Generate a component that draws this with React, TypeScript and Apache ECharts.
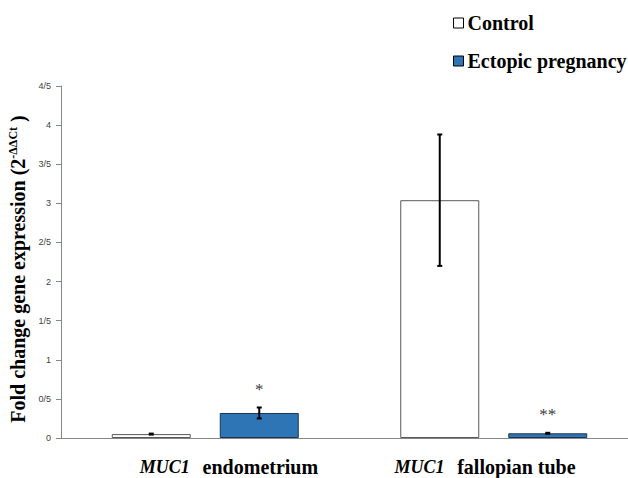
import React, { useEffect, useRef } from "react";
import * as echarts from "echarts";

const categories = ["MUC1  endometrium", "MUC1  fallopian tube"];
const seriesNames = ["Control", "Ectopic pregnancy"];
const controlValues = [0.05, 3.04];
const controlErrors = [0.006, 0.84];
const ectopicValues = [0.32, 0.06];
const ectopicErrors = [0.07, 0.012];
const significance = ["*", "**"];
const yTicks = [0, 0.5, 1, 1.5, 2, 2.5, 3, 3.5, 4, 4.5];

const SERIF = "Liberation Serif";
const BAR_W = 79;
const BAR_GAP = 29;

function errorSeries(name: string, values: number[], errors: number[], side: number, marks?: string[]) {
  const data = values.map((v, i) => [i, v, errors[i], marks ? marks[i] : ""]);
  return {
    type: "custom",
    name: name + " err",
    z: 5,
    data,
    renderItem: (params: any, api: any) => {
      const idx = api.value(0);
      const v = api.value(1);
      const e = api.value(2);
      const mark = data[params.dataIndex][3] as string;
      const off = side * (BAR_W + BAR_GAP) / 2;
      const top = api.coord([idx, v + e]);
      const bot = api.coord([idx, v - e]);
      const x = top[0] + off;
      const cap = 2.5;
      const children: any[] = [];
      const lineStyle = { stroke: "#000", lineWidth: 2 };
      if (Math.abs(bot[1] - top[1]) < 4) {
        const mid = (top[1] + bot[1]) / 2;
        children.push({ type: "rect", shape: { x: x - 2.5, y: mid - 1.5, width: 5, height: 3 }, style: { fill: "#000" } });
      } else {
        children.push({ type: "line", shape: { x1: x, y1: top[1], x2: x, y2: bot[1] }, style: lineStyle });
        children.push({ type: "line", shape: { x1: x - cap, y1: top[1], x2: x + cap, y2: top[1] }, style: lineStyle });
        children.push({ type: "line", shape: { x1: x - cap, y1: bot[1], x2: x + cap, y2: bot[1] }, style: lineStyle });
      }
      if (mark) {
        children.push({
          type: "text",
          style: {
            text: mark,
            x,
            y: top[1] - 18,
            textAlign: "center",
            textVerticalAlign: "middle",
            fontFamily: SERIF,
            fontSize: 17,
            fill: "#404040",
          },
        });
      }
      return { type: "group", children };
    },
  };
}

const richLabel = {
  i: { fontFamily: SERIF, fontStyle: "italic", fontWeight: "bold", fontSize: 18, fill: "#000" },
  b: { fontFamily: SERIF, fontWeight: "bold", fontSize: 20, fill: "#000" },
};

export default function App() {
  const ref = useRef<HTMLDivElement>(null);
  useEffect(() => {
    if (!ref.current) return;
    const chart = echarts.init(ref.current, undefined, { renderer: "svg" });
    chart.setOption({
      animation: false,
      backgroundColor: "#fff",
      grid: { left: 61, top: 86, right: -10, bottom: 40, containLabel: false, outerBoundsMode: "none" },
      legend: {
        orient: "vertical",
        left: 448,
        top: 8,
        itemWidth: 10,
        itemHeight: 10,
        itemGap: 18,
        icon: "rect",
        textStyle: { fontFamily: SERIF, fontWeight: "bold", fontSize: 20, color: "#000", padding: [0, 0, 0, -1] },
        data: [
          { name: seriesNames[0], itemStyle: { color: "#fff", borderColor: "#000", borderWidth: 1 } },
          { name: seriesNames[1], itemStyle: { color: "#2E75B6", borderColor: "#000", borderWidth: 1 } },
        ],
      },
      xAxis: {
        type: "category",
        data: categories,
        axisLine: { lineStyle: { color: "#868686", width: 1 } },
        axisTick: { show: false },
        axisLabel: { show: false },
      },
      yAxis: {
        type: "value",
        min: 0,
        max: 4.5,
        interval: 0.5,
        splitLine: { show: false },
        axisLine: { show: true, lineStyle: { color: "#868686", width: 1 } },
        axisTick: { show: true, length: 5, lineStyle: { color: "#868686" } },
        axisLabel: {
          fontSize: 9,
          fontFamily: "Liberation Sans",
          color: "#404040",
          margin: 10,
          formatter: (v: number) => {
            const t = yTicks.find((k) => Math.abs(k - v) < 1e-9);
            return String(t ?? v).replace(".", "/");
          },
        },
        name: "{a|Fold change gene expression (2}{s|-ΔΔCt}{a| )}",
        nameLocation: "middle",
        nameGap: 25,
        nameRotate: 90,
        nameTextStyle: {
          padding: [0, 14, 0, 0],
          rich: {
            a: { fontFamily: SERIF, fontWeight: "bold", fontSize: 20, color: "#000" },
            s: { fontFamily: SERIF, fontWeight: "bold", fontSize: 12, color: "#000", verticalAlign: "top", padding: [0, 0, 9, 0] },
          },
        },
      },
      series: [
        {
          name: seriesNames[0],
          type: "bar",
          data: controlValues,
          barWidth: BAR_W,
          barGap: (BAR_GAP / BAR_W) * 100 + "%",
          itemStyle: { color: "#fff", borderColor: "#595959", borderWidth: 1 },
        },
        {
          name: seriesNames[1],
          type: "bar",
          data: ectopicValues,
          barWidth: BAR_W,
          itemStyle: { color: "#2E75B6", borderColor: "#1F3550", borderWidth: 1 },
        },
        errorSeries(seriesNames[0], controlValues, controlErrors, -1),
        errorSeries(seriesNames[1], ectopicValues, ectopicErrors, 1, significance),
      ],
      graphic: [
        {
          type: "text",
          x: 229,
          y: 467,
          style: {
            text: "{i|MUC1}   {b|endometrium}",
            textAlign: "center",
            textVerticalAlign: "middle",
            fontFamily: SERIF,
            fontWeight: "bold",
            fontSize: 17,
            rich: richLabel,
          },
        },
        {
          type: "text",
          x: 485,
          y: 467,
          style: {
            text: "{i|MUC1}   {b|fallopian tube}",
            textAlign: "center",
            textVerticalAlign: "middle",
            fontFamily: SERIF,
            fontWeight: "bold",
            fontSize: 17,
            rich: richLabel,
          },
        },
      ],
    });
    return () => chart.dispose();
  }, []);
  return <div ref={ref} style={{ width: 628, height: 478, position: "absolute", left: 0, top: 0 }} />;
}
